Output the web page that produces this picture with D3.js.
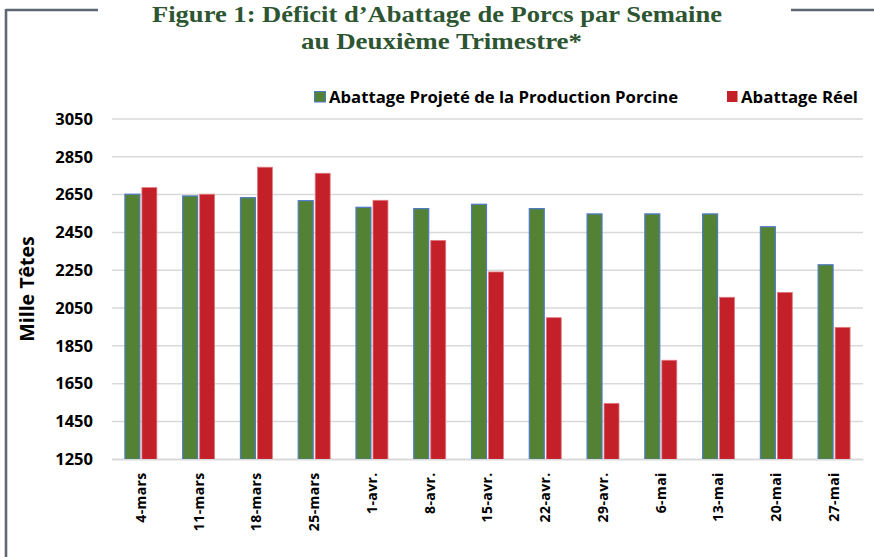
<!DOCTYPE html>
<html><head><meta charset="utf-8">
<script src="https://cdn.jsdelivr.net/npm/d3@7"></script>
<style>body{margin:0;background:#fff}svg{display:block}</style>
</head><body>
<svg id="c" width="874" height="557"></svg>
<script>
const categories = ["4-mars","11-mars","18-mars","25-mars","1-avr.","8-avr.","15-avr.","22-avr.","29-avr.","6-mai","13-mai","20-mai","27-mai"];
const projete = [2652,2643,2634,2618,2583,2576,2599,2576,2548,2548,2548,2480,2279];
const reel = [2687,2652,2795,2763,2620,2408,2241,1999,1546,1774,2107,2133,1948];
const yTicks = [1250,1450,1650,1850,2050,2250,2450,2650,2850,3050];
const seriesNames = ["Abattage Projeté de la Production Porcine","Abattage Réel"];
const titleLines = ["Figure 1: Déficit d’Abattage de Porcs par Semaine","au Deuxième Trimestre*"];
const yTitle = "Mille Têtes";

const svg = d3.select("#c");
const sans = "'Open Sans', 'Liberation Sans', sans-serif";
const green = "#548235", red = "#C3202A", grid = "#d9d9d9";

// frame
const frame = "#5e6873";
svg.append("path").attr("d","M6,10 H98 M6,9 V557").attr("stroke",frame).attr("stroke-width",2.6).attr("fill","none");
svg.append("line").attr("x1",791).attr("x2",874).attr("y1",10).attr("y2",10).attr("stroke",frame).attr("stroke-width",2.6);

// title
const tt = svg.append("g").attr("font-family","'Liberation Serif', 'DejaVu Serif', serif").attr("font-weight","bold").attr("fill","#2d5532").attr("font-size",23.5).attr("text-anchor","middle");
tt.append("text").attr("x",437).attr("y",21.5).attr("textLength",570).attr("lengthAdjust","spacingAndGlyphs").text(titleLines[0]);
tt.append("text").attr("x",441.5).attr("y",48.5).attr("textLength",281).attr("lengthAdjust","spacingAndGlyphs").text(titleLines[1]);

const x = d3.scaleBand().domain(categories).range([112,863]).padding(0);
const sub = d3.scaleBand().domain(["p","r"]).range([0,x.bandwidth()]).paddingInner(0.12).paddingOuter(0.76);
const y = d3.scaleLinear().domain([1250,3050]).range([459.3,119]);

// grid
svg.append("g").selectAll("line").data(yTicks).join("line")
  .attr("x1",112).attr("x2",863).attr("y1",d=>y(d)).attr("y2",d=>y(d))
  .attr("stroke",grid).attr("stroke-width",1.5);

// y axis labels
const ya = svg.append("g").attr("transform","translate(112,0)")
  .call(d3.axisLeft(y).tickValues(yTicks).tickSize(0).tickPadding(19).tickFormat(d3.format("d")));
ya.select(".domain").remove();
ya.selectAll("text").attr("font-family",sans).attr("font-weight","bold").attr("font-size",16.5).attr("fill","#000");

// bars
const g = svg.append("g");
g.selectAll("rect.p").data(categories).join("rect").attr("class","p")
  .attr("x",(d)=>x(d)+sub("p")).attr("width",sub.bandwidth())
  .attr("y",(d,i)=>y(projete[i])).attr("height",(d,i)=>y(1250)-y(projete[i]))
  .attr("fill",green).attr("stroke","#4f7bc6").attr("stroke-width",1.2);
g.selectAll("rect.r").data(categories).join("rect").attr("class","r")
  .attr("x",(d)=>x(d)+sub("r")).attr("width",sub.bandwidth())
  .attr("y",(d,i)=>y(reel[i])).attr("height",(d,i)=>y(1250)-y(reel[i]))
  .attr("fill",red).attr("stroke","#e07a80").attr("stroke-width",0.8);

// x axis
const xa = svg.append("g").attr("transform","translate(0,459.3)")
  .call(d3.axisBottom(x).tickSize(0).tickPadding(0));
xa.select(".domain").attr("stroke",grid).attr("stroke-width",1.5);
xa.selectAll("text").attr("font-family",sans).attr("font-weight","bold").attr("font-size",14).attr("fill","#000")
  .attr("letter-spacing","0.4px")
  .attr("transform","rotate(-90)").attr("text-anchor","end").attr("x",-13).attr("y",0).attr("dy","0.35em");

// y title
svg.append("text").attr("transform","translate(34,289) rotate(-90)").attr("text-anchor","middle")
  .attr("font-family",sans).attr("font-weight","bold").attr("font-size",19.5).attr("fill","#000").text(yTitle);

// legend
const lg = svg.append("g").attr("font-family",sans).attr("font-weight","bold").attr("font-size",16).attr("fill","#000");
lg.append("rect").attr("x",314.5).attr("y",91.5).attr("width",11).attr("height",10.5).attr("fill",green).attr("stroke","#4f7bc6").attr("stroke-width",1);
lg.append("text").attr("x",329).attr("y",102.5).attr("textLength",349).attr("lengthAdjust","spacingAndGlyphs").text(seriesNames[0]);
lg.append("rect").attr("x",727).attr("y",91).attr("width",10.5).attr("height",11).attr("fill",red);
lg.append("text").attr("x",741).attr("y",102.5).attr("textLength",117).attr("lengthAdjust","spacingAndGlyphs").text(seriesNames[1]);
</script>
</body></html>
